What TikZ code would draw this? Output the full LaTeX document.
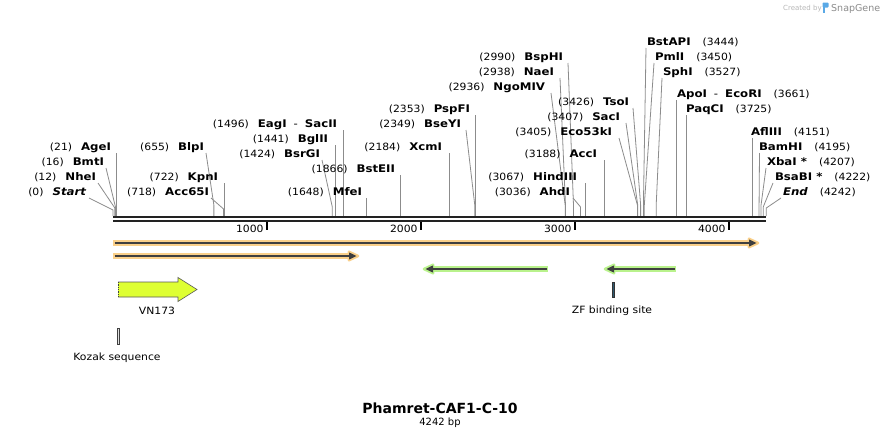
\documentclass[tikz,border=0pt]{standalone}
\usepackage{fontspec}
\setmainfont{DejaVu Sans}
\newfontfamily\numfam[FakeStretch=1.08]{DejaVu Sans}
\newfontfamily\namefam[FakeStretch=1.12]{DejaVu Sans}
\newcommand\numf{\numfam\fontsize{10}{12}\selectfont}
\newcommand\namef{\namefam\bfseries\fontsize{10.5}{12}\selectfont}
\usetikzlibrary{calc}
\definecolor{conngray}{HTML}{8C8C8C}
\definecolor{bbone}{HTML}{222222}
\definecolor{orhalo}{HTML}{FAD08A}
\definecolor{grhalo}{HTML}{B9F28C}
\definecolor{darkln}{HTML}{3F3F3F}
\definecolor{vnfill}{HTML}{DEFF33}
\definecolor{zfcol}{HTML}{2F5A70}
\definecolor{logoblue}{HTML}{5AA9E6}
\tikzset{
  lab/.style={inner sep=0pt, outer sep=0pt, text=black},
  conn/.style={draw=conngray, line width=0.8pt},
  txt/.style={inner sep=0pt, outer sep=0pt, font=\numf},
}
% left labels, vertical leader
\newcommand\enzLv[5]{%
  \pgfmathsetmacro\siteX{113+0.154*#4}%
  \node[lab,anchor=base east] (#1) at (#2,#3+4) {{\numf(#4)}\hspace{9pt}{\namef #5}};%
  \coordinate (#1-t) at (\siteX,#3+7);%
  \coordinate (#1-b) at (\siteX,216);%
  \draw[conn] (#1-t) -- (#1-b);}
% left labels, bent leader: #6 start x, #7 knee y
\newcommand\enzLd[7]{%
  \pgfmathsetmacro\siteX{113+0.154*#4}%
  \node[lab,anchor=base east] (#1) at (#2,#3+4) {{\numf(#4)}\hspace{9pt}{\namef #5}};%
  \coordinate (#1-t) at (#6,#3+7);%
  \coordinate (#1-k) at (\siteX,#7);%
  \coordinate (#1-b) at (\siteX,216);%
  \draw[conn] (#1-t) -- (#1-k) -- (#1-b);}
% right labels
\newcommand\enzRv[5]{%
  \pgfmathsetmacro\siteX{113+0.154*#4}%
  \node[lab,anchor=base west] (#1) at (#2,#3+4) {{\namef #5}\hspace{12pt}{\numf(#4)}};%
  \coordinate (#1-t) at (\siteX,#3+7);%
  \coordinate (#1-b) at (\siteX,216);%
  \draw[conn] (#1-t) -- (#1-b);}
\newcommand\enzRd[7]{%
  \pgfmathsetmacro\siteX{113+0.154*#4}%
  \node[lab,anchor=base west] (#1) at (#2,#3+4) {{\namef #5}\hspace{12pt}{\numf(#4)}};%
  \coordinate (#1-t) at (#6,#3+7);%
  \coordinate (#1-k) at (\siteX,#7);%
  \coordinate (#1-b) at (\siteX,216);%
  \draw[conn] (#1-t) -- (#1-k) -- (#1-b);}
% feature arrow: y, tail x, tip x, halo colour
\newcommand\farrow[4]{%
  \pgfmathsetmacro\fdir{ifthenelse(#3>#2,1,-1)}%
  \pgfmathsetmacro\fhb{#3-9*\fdir}%
  \pgfmathsetmacro\ftail{#2+1.5*\fdir}%
  \pgfmathsetmacro\ftip{#3-1.5*\fdir}%
  \fill[#4] (#2,#1-3) rectangle (\fhb,#1+3);%
  \filldraw[#4, line width=2.6pt, line join=round] (\fhb,#1-4.2) -- (#3,#1) -- (\fhb,#1+4.2) -- cycle;%
  \draw[darkln, line width=2pt] (\ftail,#1) -- (\fhb,#1);%
  \fill[darkln] (\fhb,#1-3.6) -- (\ftip,#1) -- (\fhb,#1+3.6) -- cycle;}
\begin{document}
\begin{tikzpicture}[x=1pt,y=-1pt]
\useasboundingbox (0,0) rectangle (880,439);
\fill[white] (0,0) rectangle (880,439);

% Created by SnapGene
\node[inner sep=0pt, anchor=base west, text=black!28, font=\fontsize{7}{8}\selectfont] (cby) at (783,10) {Created by};
\fill[logoblue, rounded corners=0.8pt] (822.5,2.5) rectangle (828.5,7.5);
\fill[logoblue] (822.5,5) rectangle (825,12.5);
\node[inner sep=0pt, anchor=base west, text=black!45, font=\fontsize{9.5}{10}\selectfont] (sg) at (831,11) {SnapGene};

% enzyme sites, left-labelled
\enzLd{Start}{86}{191}{0}{\itshape Start}{89}{210}
\enzLd{NheI}{96}{176}{12}{NheI}{98}{208}
\enzLd{BmtI}{104}{161}{16}{BmtI}{106}{207}
\enzLv{AgeI}{111}{146}{21}{AgeI}
\enzLd{BlpI}{204}{146}{655}{BlpI}{206}{205}
\enzLv{KpnI}{218}{176}{722}{KpnI}
\enzLd{Acc65I}{209}{191}{718}{Acc65I}{211}{209}
\enzLv{EagI}{337}{123}{1496}{EagI\hspace{7pt}{\mdseries -}\hspace{7pt}SacII}
\enzLv{BglII}{328}{138}{1441}{BglII}
\enzLd{BsrGI}{320}{153}{1424}{BsrGI}{322}{207}
\enzLv{BstEII}{395}{168}{1866}{BstEII}
\enzLv{MfeI}{362}{191}{1648}{MfeI}
\enzLv{XcmI}{442}{146}{2184}{XcmI}
\enzLv{PspFI}{470}{108}{2353}{PspFI}
\enzLd{BseYI}{461}{123}{2349}{BseYI}{466}{205}
\enzLd{BspHI}{563}{56}{2990}{BspHI}{568}{205}
\enzLd{NaeI}{554}{71}{2938}{NaeI}{560}{205}
\enzLd{NgoMIV}{545}{86}{2936}{NgoMIV}{551}{205}
\enzLd{TsoI}{629}{101}{3426}{TsoI}{633}{205}
\enzLd{SacI}{620}{116}{3407}{SacI}{626}{205}
\enzLd{Eco53kI}{612}{131}{3405}{Eco53kI}{619}{205}
\enzLv{AccI}{597}{153}{3188}{AccI}
\enzLv{HindIII}{577}{176}{3067}{HindIII}
\enzLd{AhdI}{570}{191}{3036}{AhdI}{573}{207}

% enzyme sites, right-labelled
\enzRd{BstAPI}{647}{41}{3444}{BstAPI}{646}{205}
\enzRd{PmlI}{655}{56}{3450}{PmlI}{654}{205}
\enzRd{SphI}{663}{71}{3527}{SphI}{662}{205}
\enzRv{ApoI}{677}{93}{3661}{ApoI\hspace{7pt}{\mdseries -}\hspace{7pt}EcoRI}
\enzRv{PaqCI}{686}{108}{3725}{PaqCI}
\enzRv{AflIII}{751}{131}{4151}{AflIII}
\enzRd{BamHI}{759}{146}{4195}{BamHI}{759.5}{206}
\enzRd{XbaI}{767}{161}{4207}{XbaI *}{766}{206}
\enzRd{BsaBI}{775}{176}{4222}{BsaBI *}{773}{207}
\enzRd{End}{783}{191}{4242}{\itshape End}{781}{208}

% backbone
\draw[bbone, line width=2.3pt] (113,217.1) -- (766.3,217.1);
\draw[bbone, line width=1.7pt] (113,220.7) -- (766.3,220.7);

% ruler ticks
\foreach \k in {1,2,3,4}{
  \pgfmathsetmacro\tx{113+154*\k}
  \coordinate (tk\k-a) at (\tx,221.5);
  \coordinate (tk\k-b) at (\tx,229.5);
  \draw[black, line width=1.8pt] (tk\k-a) -- (tk\k-b);
  \node[txt, anchor=base east] (tl\k) at (\tx-3.5,232) {\k000};
}

% features
\farrow{243}{113}{758}{orhalo}
\farrow{256}{113}{358}{orhalo}
\farrow{269}{548}{424}{grhalo}
\farrow{269}{676}{605}{grhalo}

% VN173
\filldraw[fill=vnfill, draw=black!65, line width=0.6pt]
  (118,282) -- (178,282) -- (178,277.5) -- (197,289.5) -- (178,301.5) -- (178,297) -- (118,297);
\draw[black!75, line width=0.7pt, densely dotted] (118,282) -- (118,297);
\node[txt] (vn) at (157,311) {VN173};

% ZF binding site
\filldraw[fill=zfcol, draw=black!80, line width=0.5pt] (612,282) rectangle (614.5,297);
\node[txt] (zf) at (612,311) {ZF binding site};

% Kozak sequence
\filldraw[fill=black!12, draw=black!75, line width=0.6pt] (117,328) rectangle (119.5,344);
\node[txt] (kz) at (117,357.5) {Kozak sequence};

% title
\node[inner sep=0pt, font=\bfseries\fontsize{14}{16}\selectfont] (title) at (440,408) {Phamret-CAF1-C-10};
\node[txt, font=\fontsize{10}{12}\selectfont] (bp) at (440,423) {4242 bp};
\end{tikzpicture}
\end{document}
